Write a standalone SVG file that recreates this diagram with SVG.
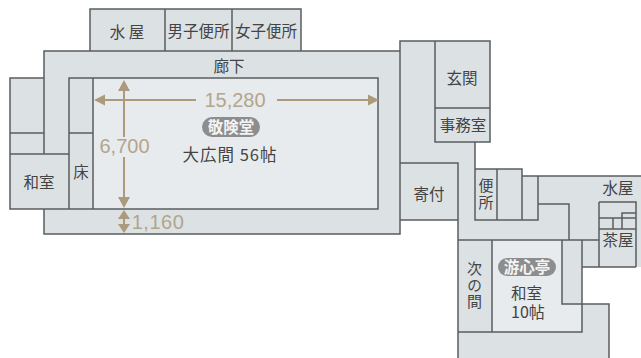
<svg xmlns="http://www.w3.org/2000/svg" width="641" height="358" viewBox="0 0 641 358">
<style>
.w{fill:#dce1e4;stroke:none}
.h2{fill:#e8ebed;stroke:none}
.l{fill:none;stroke:#5a5d5f;stroke-width:1.5}
.t{font-family:"Noto Sans CJK JP",sans-serif;font-size:15.5px;fill:#444;text-anchor:middle}
.v{writing-mode:vertical-rl;font-size:15px}
.d{font-family:"Liberation Sans",sans-serif;font-size:20px;fill:#b3a58c;text-anchor:middle}
.b{font-family:"Noto Sans CJK JP",sans-serif;font-size:15.5px;font-weight:700;fill:#f4f4f4;text-anchor:middle}
.a{stroke:#ac9a7c;stroke-width:2;fill:none}
.h{fill:#ac9a7c}
.p{fill:#8c8d8f}
</style>
<rect width="641" height="358" fill="#fff"/>
<g id="plan-fill">
<path class="w" d="M90 9H301V51H400V41H490V142H475V169H522V176H641V267H582V304H609V358H458V220H400V234H44V209H10V78H44V51H90Z"/>
<rect class="h2" x="93" y="78" width="285" height="131"/>
<path class="h2" d="M492 240H562V304H582V332H492Z"/>
</g>
<g id="connectors">
<path class="l" d="M44 154V51H400M90 51V9H301V51M165 9V51M232 9V51"/>
<path class="l" d="M44 78H10V209H378V78H69V209M93 78V209M10 133H44M69 133H93M10 154H69M44 209V234H400V41H490V142H435V41M435 108H490M400 163H458V358M400 220H458"/>
<path class="l" d="M475 142V220H538V176M475 169H522V220M497 169V220M522 176H641"/>
<path class="l" d="M538 204H569V240M458 240H599M492 240V332M458 332H582V240M562 240V304H609V358"/>
<path class="l" d="M582 267H636M599 202H636V267M599 202V267M599 218H636M599 229H636M613 218V229M622 229V213H636"/>
</g>
<g id="dimensions">
<path class="a" d="M124 88V137M124 157V199M104 100H196M277 100H369M124 218V224"/>
<path class="h" d="M124 80l-6 11h12zM124 208l-6-11h12zM94 100l11-5.500v11zM379 100l-11-5.500v11zM124 210l-6 9h12zM124 233l-6-9h12z"/>
<text class="d" x="124.500" y="153">6,700</text>
<text class="d" x="235" y="107">15,280</text>
<text class="d" x="158" y="229" letter-spacing="0.500">1,160</text>
</g>
<g id="n-hall">
<rect class="p" x="202" y="117" width="58" height="20" rx="10"/>
<text class="b" x="231" y="132.500">敬険堂</text>
<text class="t" x="230" y="161" letter-spacing="1" style="font-size:16.500px">大広間 56帖</text>
</g>
<g id="n-tei">
<rect class="p" x="498" y="258" width="58" height="18" rx="9"/>
<text class="b" x="527" y="272.500">游心亭</text>
<text class="t"><tspan x="526.500" y="298.500">和室</tspan><tspan x="528" y="317.500" style="font-size:16px">10帖</tspan></text>
</g>
<g id="n-labels">
<text class="t" x="127" y="37.500">水 屋</text>
<text class="t" x="198.500" y="36.500">男子便所</text>
<text class="t" x="266" y="36.500">女子便所</text>
<text class="t" x="229" y="71.500">廊下</text>
<text class="t" x="39" y="188">和室</text>
<text class="t" x="81" y="178">床</text>
<text class="t" x="462" y="83.500">玄関</text>
<text class="t" x="463" y="131">事務室</text>
<text class="t" x="429" y="199.500">寄付</text>
<text class="t v" x="486" y="195" letter-spacing="2">便所</text>
<text class="t" x="618" y="193.500">水屋</text>
<text class="t" x="618" y="245.500">茶屋</text>
<text class="t v" x="474.500" y="286" letter-spacing="1.500">次の間</text>
</g>
</svg>
